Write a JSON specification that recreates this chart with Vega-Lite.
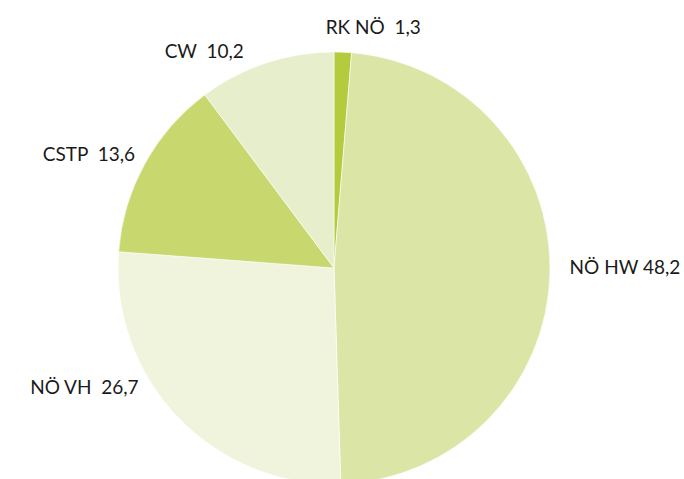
{
  "$schema": "https://vega.github.io/schema/vega-lite/v6.json",
  "autosize": "none",
  "width": 668,
  "height": 422,
  "padding": {"left": 0, "right": 16, "top": 57, "bottom": 0},
  "background": "white",
  "view": {"stroke": null},
  "data": {
    "values": [
      {"cat": "RK NÖ", "label": "RK NÖ\u00a0\u00a01,3", "value": 1.3, "rank": 1},
      {"cat": "NÖ HW", "label": "NÖ HW 48,2", "value": 48.2, "rank": 2},
      {"cat": "NÖ VH", "label": "NÖ VH\u00a0\u00a026,7", "value": 26.7, "rank": 3},
      {"cat": "CSTP", "label": "CSTP\u00a0\u00a013,6", "value": 13.6, "rank": 4},
      {"cat": "CW", "label": "CW\u00a0\u00a010,2", "value": 10.2, "rank": 5}
    ]
  },
  "transform": [
    {"stack": "value", "groupby": [], "sort": [{"field": "rank", "order": "ascending"}], "as": ["v0", "v1"]},
    {"calculate": "(datum.v0 + datum.v1) / 2", "as": "mid"}
  ],
  "layer": [
    {
      "mark": {"type": "arc", "outerRadius": 216, "stroke": "white", "strokeWidth": 0.6},
      "encoding": {
        "theta": {"field": "v0", "type": "quantitative", "scale": {"domain": [0, 100]}, "stack": null},
        "theta2": {"field": "v1"},
        "color": {
          "field": "cat", "type": "nominal", "legend": null,
          "scale": {
            "domain": ["RK NÖ", "NÖ HW", "NÖ VH", "CSTP", "CW"],
            "range": ["#b3cb3c", "#dbe5a6", "#f0f4dd", "#c8d86f", "#e7eecb"]
          }
        }
      }
    },
    {
      "transform": [{"filter": "datum.cat == 'RK NÖ'"}],
      "mark": {"type": "text", "font": "Lato", "fontSize": 19, "color": "#1a1a1a", "align": "center", "baseline": "middle", "dx": 29, "dy": 10},
      "encoding": {
        "theta": {"field": "mid", "type": "quantitative", "scale": {"domain": [0, 100]}, "stack": null},
        "radius": {"value": 250},
        "text": {"field": "label"}
      }
    },
    {
      "transform": [{"filter": "datum.cat == 'NÖ HW'"}],
      "mark": {"type": "text", "font": "Lato", "fontSize": 19, "color": "#1a1a1a", "align": "center", "baseline": "middle", "dx": 41, "dy": -6},
      "encoding": {
        "theta": {"field": "mid", "type": "quantitative", "scale": {"domain": [0, 100]}, "stack": null},
        "radius": {"value": 250},
        "text": {"field": "label"}
      }
    },
    {
      "transform": [{"filter": "datum.cat == 'NÖ VH'"}],
      "mark": {"type": "text", "font": "Lato", "fontSize": 19, "color": "#1a1a1a", "align": "center", "baseline": "middle", "dx": -69, "dy": -53},
      "encoding": {
        "theta": {"field": "mid", "type": "quantitative", "scale": {"domain": [0, 100]}, "stack": null},
        "radius": {"value": 250},
        "text": {"field": "label"}
      }
    },
    {
      "transform": [{"filter": "datum.cat == 'CSTP'"}],
      "mark": {"type": "text", "font": "Lato", "fontSize": 19, "color": "#1a1a1a", "align": "center", "baseline": "middle", "dx": -26, "dy": 7},
      "encoding": {
        "theta": {"field": "mid", "type": "quantitative", "scale": {"domain": [0, 100]}, "stack": null},
        "radius": {"value": 250},
        "text": {"field": "label"}
      }
    },
    {
      "transform": [{"filter": "datum.cat == 'CW'"}],
      "mark": {"type": "text", "font": "Lato", "fontSize": 19, "color": "#1a1a1a", "align": "center", "baseline": "middle", "dx": -51, "dy": 21},
      "encoding": {
        "theta": {"field": "mid", "type": "quantitative", "scale": {"domain": [0, 100]}, "stack": null},
        "radius": {"value": 250},
        "text": {"field": "label"}
      }
    }
  ]
}
